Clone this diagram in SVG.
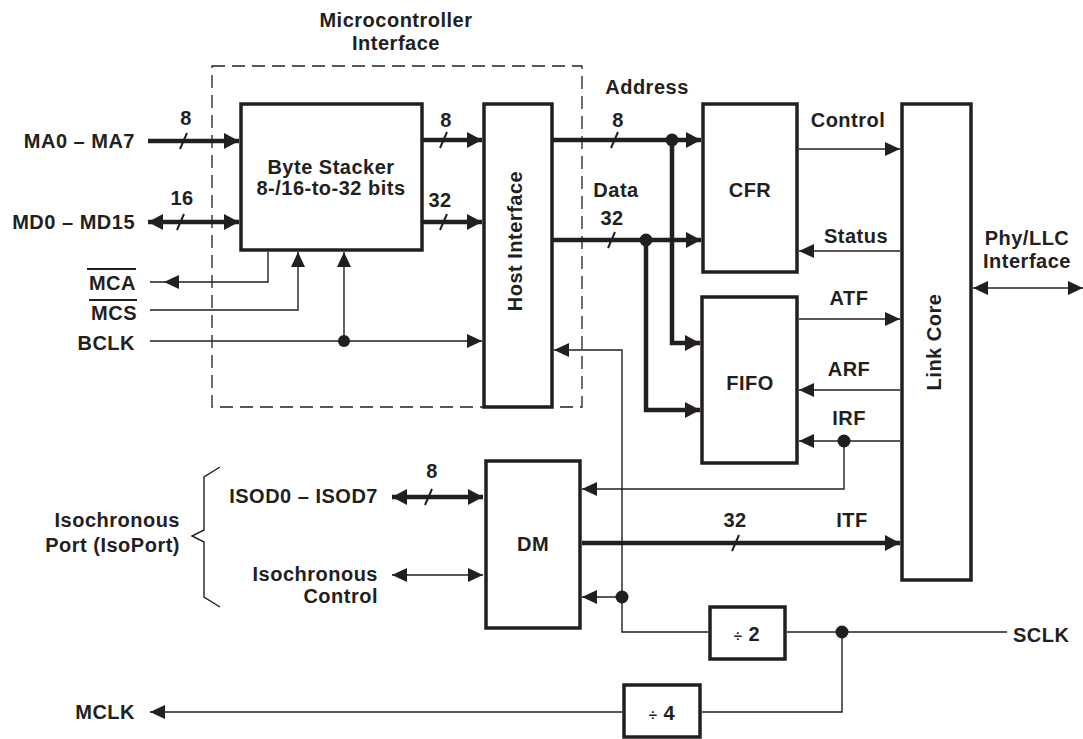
<svg xmlns="http://www.w3.org/2000/svg" width="1083" height="739" viewBox="0 0 1083 739">
<style>
text{font-family:"Liberation Sans",Arial,sans-serif;font-weight:bold;font-size:20px;letter-spacing:0.5px;fill:#231f20}
.m{text-anchor:middle}.e{text-anchor:end}
.box{fill:#fff;stroke:#231f20;stroke-width:3.5}
.bus{fill:none;stroke:#231f20;stroke-width:4.5}
.thin{fill:none;stroke:#231f20;stroke-width:1.4}
.sl{stroke:#231f20;stroke-width:2}
.dot{fill:#231f20}
.dash{fill:none;stroke:#231f20;stroke-width:1.3;stroke-dasharray:13 7}
.ah{fill:#231f20}
</style>
<defs>
<marker id="ab" markerUnits="userSpaceOnUse" markerWidth="16" markerHeight="16" refX="15" refY="8" orient="auto-start-reverse"><path d="M0,0 L15,8 L0,16 z" fill="#231f20"/></marker>
<marker id="at" markerUnits="userSpaceOnUse" markerWidth="16" markerHeight="14" refX="15" refY="7" orient="auto-start-reverse"><path d="M0,0 L15,7 L0,14 z" fill="#231f20"/></marker>
</defs>

<g id="microcontroller-interface">
<rect class="dash" x="212" y="66" width="370" height="341"/>
<text class="m" x="396" y="27">Microcontroller</text>
<text class="m" x="396" y="50">Interface</text>
</g>

<g id="byte-stacker">
<rect class="box" x="241" y="104" width="181" height="146"/>
<text class="m" x="331" y="174">Byte Stacker</text>
<text class="m" x="331" y="195">8-/16-to-32 bits</text>
</g>

<g id="host-interface">
<rect class="box" x="484" y="104" width="68" height="303"/>
<text class="m" transform="translate(522,241) rotate(-90)">Host Interface</text>
</g>

<g id="cfr">
<rect class="box" x="703" y="104" width="94" height="168"/>
<text class="m" x="750" y="197">CFR</text>
</g>

<g id="fifo">
<rect class="box" x="702" y="297" width="95" height="166"/>
<text class="m" x="750" y="390">FIFO</text>
</g>

<g id="link-core">
<rect class="box" x="902" y="104" width="69" height="476"/>
<text class="m" transform="translate(941,342) rotate(-90)">Link Core</text>
</g>

<g id="dm">
<rect class="box" x="486" y="461" width="94" height="167"/>
<text class="m" x="533" y="551">DM</text>
</g>

<g id="div2">
<rect class="box" x="710" y="607" width="75" height="52"/>
<text class="m" x="747" y="641"><tspan style="font-size:15px">÷</tspan> 2</text>
</g>

<g id="div4">
<rect class="box" x="624" y="685" width="76" height="52"/>
<text class="m" x="662" y="720"><tspan style="font-size:15px">÷</tspan> 4</text>
</g>

<g id="labels">
<text class="e" x="135" y="148">MA0 – MA7</text>
<text class="e" x="135" y="229">MD0 – MD15</text>
<text class="e" x="136" y="290">MCA</text>
<text class="e" x="137" y="320">MCS</text>
<text class="e" x="135" y="350">BCLK</text>
<text class="e" x="135" y="719">MCLK</text>
<text x="1013" y="642">SCLK</text>
<text class="m" x="1027" y="245">Phy/LLC</text>
<text class="m" x="1027" y="268">Interface</text>
<text class="e" x="378" y="503">ISOD0 – ISOD7</text>
<text class="e" x="378" y="581">Isochronous</text>
<text class="e" x="378" y="603">Control</text>
<text class="e" x="180" y="527">Isochronous</text>
<text class="e" x="180" y="552">Port (IsoPort)</text>
<text class="m" x="186" y="125">8</text>
<text class="m" x="182" y="205">16</text>
<text class="m" x="446" y="127">8</text>
<text class="m" x="440" y="207">32</text>
<text class="m" x="647" y="94">Address</text>
<text class="m" x="618" y="127">8</text>
<text class="m" x="616" y="197">Data</text>
<text class="m" x="612" y="225">32</text>
<text class="m" x="848" y="127">Control</text>
<text class="m" x="856" y="243">Status</text>
<text class="m" x="849" y="305">ATF</text>
<text class="m" x="849" y="376">ARF</text>
<text class="m" x="849" y="425">IRF</text>
<text class="m" x="735" y="527">32</text>
<text class="m" x="852" y="527">ITF</text>
<text class="m" x="432" y="478">8</text>
</g>

<g id="connectors">
<!-- overlines -->
<line class="sl" x1="87" y1="269" x2="136" y2="269"/>
<line class="sl" x1="89" y1="300" x2="137" y2="300"/>
<!-- inputs -->
<path class="bus" d="M148,141 H239" marker-end="url(#ab)"/>
<path class="bus" d="M148,222 H239" marker-start="url(#ab)" marker-end="url(#ab)"/>
<path class="thin" d="M268,252 V282 H150"/>
<path class="ah" d="M164,282 L179,275 L179,289 z"/>
<path class="thin" d="M150,310 H298 V252" marker-end="url(#at)"/>
<path class="thin" d="M150,341 H482" marker-end="url(#at)"/>
<path class="thin" d="M344,341 V252" marker-end="url(#at)"/>
<circle class="dot" cx="344" cy="341" r="6"/>
<!-- byte stacker to host -->
<path class="bus" d="M423,140 H482" marker-end="url(#ab)"/>
<path class="bus" d="M423,222 H482" marker-end="url(#ab)"/>
<!-- address/data -->
<path class="bus" d="M553,140 H701" marker-end="url(#ab)"/>
<path class="bus" d="M672,140 V343 H700" marker-end="url(#ab)"/>
<circle class="dot" cx="672" cy="140" r="6.5"/>
<path class="bus" d="M553,240 H701" marker-end="url(#ab)"/>
<path class="bus" d="M646,240 V410 H700" marker-end="url(#ab)"/>
<circle class="dot" cx="646" cy="240" r="6.5"/>
<!-- CFR/FIFO to link core -->
<path class="thin" d="M799,149 H900" marker-end="url(#at)"/>
<path class="thin" d="M900,251 H799" marker-end="url(#at)"/>
<path class="thin" d="M799,319 H900" marker-end="url(#at)"/>
<path class="thin" d="M900,390 H799" marker-end="url(#at)"/>
<path class="thin" d="M900,441 H799" marker-end="url(#at)"/>
<path class="thin" d="M844,441 V489 H582" marker-end="url(#at)"/>
<circle class="dot" cx="844" cy="441" r="6.5"/>
<!-- phy -->
<path class="thin" d="M973,288 H1083" marker-start="url(#at)" marker-end="url(#at)"/>
<!-- ITF -->
<path class="bus" d="M582,543 H900" marker-end="url(#ab)"/>
<!-- clocks -->
<path class="thin" d="M708,632 H622 V350 H554" marker-end="url(#at)"/>
<path class="thin" d="M622,597 H582" marker-end="url(#at)"/>
<circle class="dot" cx="622" cy="597" r="6.5"/>
<path class="thin" d="M787,632 H1007"/>
<circle class="dot" cx="842" cy="632" r="6.5"/>
<path class="thin" d="M842,632 V712 H702"/>
<path class="thin" d="M622,712 H150" marker-end="url(#at)"/>
<!-- iso -->
<path class="bus" d="M392,497 H483" marker-start="url(#ab)" marker-end="url(#ab)"/>
<path class="thin" d="M392,575 H483" marker-start="url(#at)" marker-end="url(#at)"/>
<path class="thin" d="M220,467 L204,477 V530 L192,536 L204,542 V597 L220,607"/>
<!-- slashes -->
<line class="sl" x1="180" y1="149" x2="187" y2="133"/>
<line class="sl" x1="177" y1="230" x2="184" y2="214"/>
<line class="sl" x1="440" y1="148" x2="447" y2="132"/>
<line class="sl" x1="440" y1="230" x2="447" y2="214"/>
<line class="sl" x1="611" y1="148" x2="618" y2="132"/>
<line class="sl" x1="608" y1="248" x2="615" y2="232"/>
<line class="sl" x1="732" y1="551" x2="739" y2="535"/>
<line class="sl" x1="425" y1="505" x2="432" y2="489"/>
</g>
</svg>
